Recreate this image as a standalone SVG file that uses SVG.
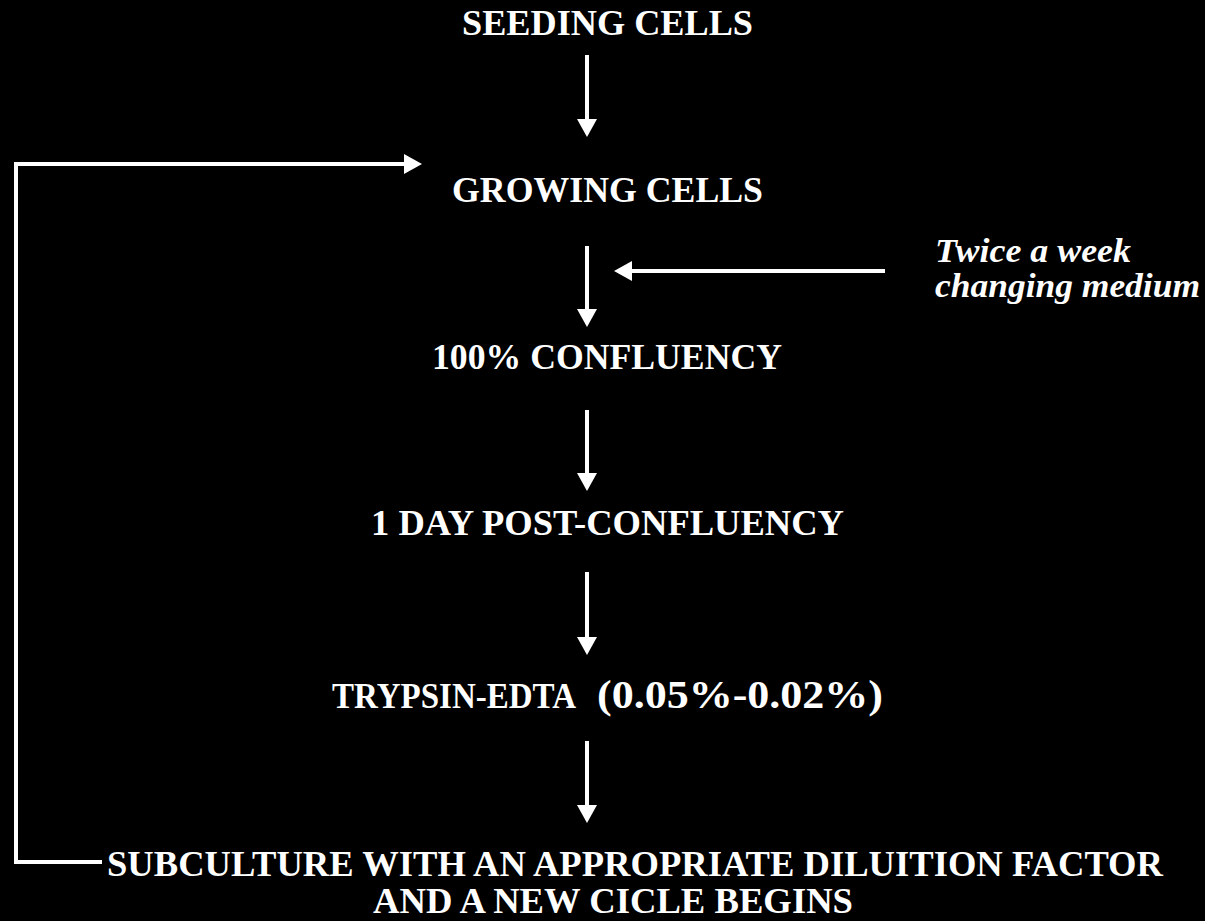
<svg xmlns="http://www.w3.org/2000/svg" width="1205" height="921" viewBox="0 0 1205 921">
<defs>
<style>
.t{font-family:"Liberation Serif","Times New Roman",serif;font-weight:bold;font-size:35px;fill:#fff}
.i{font-family:"Liberation Serif","Times New Roman",serif;font-weight:bold;font-style:italic;font-size:34px;fill:#fff}
.c{stroke:#fff;fill:none;stroke-width:4}
</style>
<marker id="ah" markerUnits="userSpaceOnUse" markerWidth="20" markerHeight="20" viewBox="0 0 18 20" refX="0" refY="10" orient="auto">
<path d="M0,0 L18,10 L0,20 Z" fill="#fff"/>
</marker>
</defs>
<rect width="1205" height="921" fill="#000"/>
<g id="n1"><text class="t" x="462" y="35" textLength="291" lengthAdjust="spacingAndGlyphs">SEEDING CELLS</text></g>
<g id="n2"><text class="t" x="452" y="202" textLength="311" lengthAdjust="spacingAndGlyphs">GROWING CELLS</text></g>
<g id="n3"><text class="t" x="432" y="369" textLength="350" lengthAdjust="spacingAndGlyphs">100% CONFLUENCY</text></g>
<g id="n4"><text class="t" x="371" y="535" textLength="473" lengthAdjust="spacingAndGlyphs">1 DAY POST-CONFLUENCY</text></g>
<g id="n5"><text class="t" y="708"><tspan x="332" textLength="244" lengthAdjust="spacingAndGlyphs">TRYPSIN-EDTA</tspan><tspan x="597" font-size="40" textLength="286" lengthAdjust="spacingAndGlyphs">(0.05%-0.02%)</tspan></text></g>
<g id="n6"><text class="t" x="107" y="876" textLength="1056" lengthAdjust="spacingAndGlyphs">SUBCULTURE WITH AN APPROPRIATE DILUITION FACTOR</text><text class="t" x="373" y="913" font-size="34" textLength="480" lengthAdjust="spacingAndGlyphs">AND A NEW CICLE BEGINS</text></g>
<g id="note"><text class="i" x="935" y="262" textLength="196" lengthAdjust="spacingAndGlyphs">Twice a week</text><text class="i" x="935" y="297" textLength="265" lengthAdjust="spacingAndGlyphs">changing medium</text></g>
<g id="connectors">
<path class="c" d="M587,55 V119" marker-end="url(#ah)"/>
<path class="c" d="M587,246 V309" marker-end="url(#ah)"/>
<path class="c" d="M587,410 V473" marker-end="url(#ah)"/>
<path class="c" d="M587,572 V637" marker-end="url(#ah)"/>
<path class="c" d="M587,741 V805" marker-end="url(#ah)"/>
<path class="c" d="M885,271 H632" marker-end="url(#ah)"/>
<path class="c" stroke-width="5" d="M102,862 H16 V164 H404" marker-end="url(#ah)"/>
</g>
</svg>
